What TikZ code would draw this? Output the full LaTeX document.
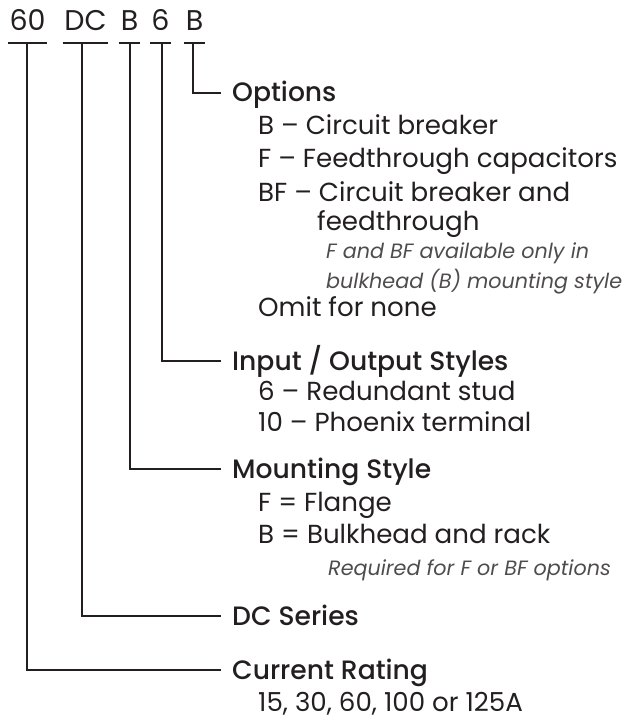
\documentclass[tikz,border=0pt]{standalone}
\usepackage{fontspec}
\setmainfont{Poppins}
\newfontfamily\headfont{Poppins Medium}
\definecolor{ink}{HTML}{231F20}
\begin{document}
\begin{tikzpicture}[x=1pt,y=-1pt,
  code/.style={anchor=base,font=\fontsize{28.5}{30}\selectfont,text=ink,inner xsep=1.5pt,inner ysep=12pt,text depth=0pt},
  uline/.style={line width=2.6pt,draw=ink},
  conn/.style={line width=2.3pt,draw=ink},
  head/.style={anchor=base west,font=\headfont\fontsize{26.6}{28}\selectfont,text=ink,inner xsep=11pt,inner ysep=0pt,text height=18pt,text depth=0pt},
  item/.style={anchor=base west,font=\fontsize{26.1}{28}\selectfont,text=ink,inner sep=0pt},
  note/.style={anchor=base west,font=\itshape\fontsize{20.7}{22}\selectfont,text=ink!80,inner sep=0pt}]
\useasboundingbox (0,0) rectangle (628,719);
% part code
\node[code] (c1) at (27.5,31) {60};
\node[code] (c2) at (85.5,31) {DC};
\node[code] (c3) at (129.5,31) {B};
\node[code] (c4) at (160.5,31) {6};
\node[code] (c5) at (194.5,31) {B};
\foreach \c in {c1,c2,c3,c4,c5}
  \draw[uline] (\c.south west) -- (\c.south east);
% headings
\node[head] (h5) at (221,102) {Options};
\node[head] (h4) at (221,370) {Input / Output Styles};
\node[head] (h3) at (221,478) {Mounting Style};
\node[head] (h2) at (221,625) {DC Series};
\node[head] (h1) at (221,679) {Current Rating};
% connectors
\draw[conn] ([xshift=-0.5pt]c1.south) |- (h1.west);
\draw[conn] ([xshift=-3.5pt]c2.south) |- (h2.west);
\draw[conn] ([xshift=0.5pt]c3.south) |- (h3.west);
\draw[conn] ([xshift=1.5pt]c4.south) |- (h4.west);
\draw[conn] ([xshift=-1.5pt]c5.south) |- (h5.west);
% options
\node[item] (o1) at (258,135) {B – Circuit breaker};
\node[item] (o2) at (258,168) {F – Feedthrough capacitors};
\node[item] (o3) at (258,201) {BF – Circuit breaker and};
\node[item] (o4) at (317,230) {feedthrough};
\node[note] (o5) at (326,258) {F and BF available only in};
\node[note] (o6) at (326,288) {bulkhead (B) mounting style};
\node[item] (o7) at (258,316) {Omit for none};
% input/output
\node[item] (i1) at (258,400) {6 – Redundant stud};
\node[item] (i2) at (258,431) {10 – Phoenix terminal};
% mounting
\node[item] (m1) at (258,511) {F = Flange};
\node[item] (m2) at (258,543) {B = Bulkhead and rack};
\node[note] (m3) at (328,575) {Required for F or BF options};
% current
\node[item] (r1) at (258,711) {15, 30, 60, 100 or 125A};
\end{tikzpicture}
\end{document}
